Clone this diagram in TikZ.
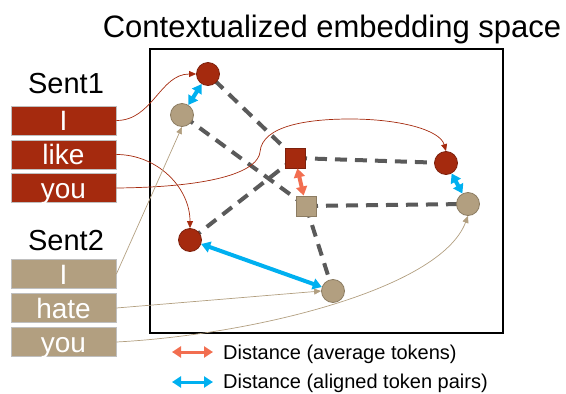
\documentclass[tikz,border=0pt]{standalone}
\usepackage{fontspec}
\setmainfont{Liberation Sans}
\usetikzlibrary{arrows.meta,backgrounds}
\definecolor{rustred}{RGB}{165,42,14}
\definecolor{rustedge}{RGB}{125,32,12}
\definecolor{tokentan}{RGB}{178,159,128}
\definecolor{tanedge}{RGB}{140,124,98}
\definecolor{alignblue}{RGB}{0,176,240}
\definecolor{avgorange}{RGB}{242,110,80}
\definecolor{dashgray}{RGB}{90,90,90}

\begin{document}
\begin{tikzpicture}[x=1pt,y=-1pt,
    tok/.style={draw=gray!50, line width=0.8pt, minimum width=105pt, minimum height=29pt,
      inner sep=0pt, text=white, font=\fontsize{28}{28}\selectfont, text height=20pt, text depth=0pt},
    emb/.style={circle, minimum size=23pt, inner sep=0pt, line width=0.8pt},
    avg/.style={rectangle, minimum size=20pt, inner sep=0pt, line width=0.8pt},
    link/.style={line width=0.7pt, -{Triangle[length=7pt,width=6pt]}},
    gap/.style={dashgray, line width=4pt, dash pattern=on 12pt off 8pt},
    dist/.style={line width=4pt, {Triangle[length=9pt,width=11pt]}-{Triangle[length=9pt,width=11pt]}}]
  \useasboundingbox (0,0) rectangle (566,394);

  % title and frame
  \node[anchor=base, font=\fontsize{31}{31}\selectfont] (title) at (332,37) {Contextualized embedding space};
  \draw[line width=1.3pt] (150,49) rectangle (503,333);

  % sentences
  \node[anchor=base, font=\fontsize{29}{29}\selectfont] (sentA) at (66,93) {Sent1};
  \node[tok, fill=rustred] (a1) at (63.5,120.5) {I};
  \node[tok, fill=rustred] (a2) at (63.5,154.5) {like};
  \node[tok, fill=rustred] (a3) at (63.5,188) {you};
  \node[anchor=base, font=\fontsize{29}{29}\selectfont] (sentB) at (66,250) {Sent2};
  \node[tok, fill=tokentan] (b1) at (63.5,274) {I};
  \node[tok, fill=tokentan] (b2) at (63.5,308) {hate};
  \node[tok, fill=tokentan] (b3) at (63.5,342) {you};

  % embedded tokens
  \node[emb, fill=rustred, draw=rustedge] (r1) at (208,74) {};
  \node[emb, fill=tokentan, draw=tanedge] (t1) at (182,115) {};
  \node[emb, fill=rustred, draw=rustedge] (r2) at (190,240) {};
  \node[emb, fill=tokentan, draw=tanedge] (t2) at (333,291) {};
  \node[emb, fill=rustred, draw=rustedge] (r3) at (446,163) {};
  \node[emb, fill=tokentan, draw=tanedge] (t3) at (468,204) {};
  \node[avg, fill=rustred, draw=rustedge] (m1) at (295,158) {};
  \node[avg, fill=tokentan, draw=tanedge] (m2) at (306,206) {};

  \begin{scope}[on background layer]
    \draw[gap] (m1.center) -- (r1.center);
    \draw[gap] (m1.center) -- (r2.center);
    \draw[gap] (m1.center) -- (r3.center);
    \draw[gap] (m2.center) -- (t1.center);
    \draw[gap] (m2.center) -- (t2.center);
    \draw[gap] (m2.center) -- (t3.center);
  \end{scope}

  % token to embedding
  \draw[link, rustred] (a1.east) to[out=0, in=180] (r1.west);
  \draw[link, rustred] (a2.east) to[out=0, in=90] (r2.north);
  \draw[link, rustred] (a3.east) .. controls (220,187) and (258,170) .. (260,152)
    .. controls (262,125) and (310,119) .. (350,119)
    .. controls (400,119) and (440,130) .. (r3.north);
  \draw[link, tokentan] (b1.east) -- (t1.south);
  \draw[link, tokentan] (b2.east) -- (t2.west);
  \draw[link, tokentan] (b3.east) .. controls (250,335) and (440,290) .. (t3.south);

  % distances
  \draw[dist, alignblue] (r1) -- (t1);
  \draw[dist, alignblue] (r2) -- (t2);
  \draw[dist, alignblue] (r3) -- (t3);
  \draw[dist, avgorange] (m1) -- (m2);

  % legend
  \coordinate (o1) at (172,352);
  \coordinate (o2) at (213,352);
  \coordinate (c1) at (172,382);
  \coordinate (c2) at (213,382);
  \draw[dist, avgorange, line width=3pt] (o1) -- (o2);
  \draw[dist, alignblue, line width=3pt] (c1) -- (c2);
  \node[anchor=base west, font=\fontsize{20}{20}\selectfont, inner sep=0pt] (legA) at (223,359) {Distance (average tokens)};
  \node[anchor=base west, font=\fontsize{20}{20}\selectfont, inner sep=0pt] (legB) at (223,388) {Distance (aligned token pairs)};
\end{tikzpicture}
\end{document}
